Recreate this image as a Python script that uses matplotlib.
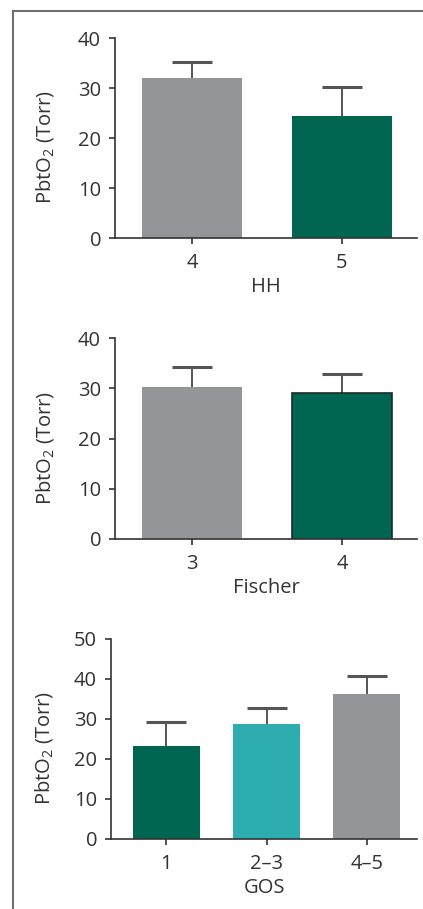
import numpy as np
import matplotlib
matplotlib.use('Agg')
import matplotlib.pyplot as plt
from matplotlib.lines import Line2D

plt.rcParams['font.family'] = ['Open Sans', 'DejaVu Sans']
plt.rcParams['mathtext.fontset'] = 'custom'
plt.rcParams['mathtext.rm'] = 'Open Sans'

GREY = '#939598'
GREEN = '#006651'
TEAL = '#2eadb0'
INK = '#333333'
FS = 14.5

# data (mean and upper SD)
hh_labels = ['4', '5']
hh_means = [32.0, 24.4]
hh_errs = [3.3, 5.8]
hh_colors = [GREY, GREEN]

fischer_labels = ['3', '4']
fischer_means = [30.2, 29.1]
fischer_errs = [4.1, 3.8]
fischer_colors = [GREY, GREEN]

gos_labels = ['1', '2\u20133', '4\u20135']
gos_means = [23.3, 28.8, 36.3]
gos_errs = [5.9, 3.9, 4.5]
gos_colors = [GREEN, TEAL, GREY]

W, H = 423, 909
fig = plt.figure(figsize=(W / 100, H / 100), dpi=100)

def px_axes(left, right, top, bottom):
    return fig.add_axes([left / W, 1 - bottom / H, (right - left) / W, (bottom - top) / H])

def panel(ax, labels, means, errs, colors, xlabel, ymax, ystep, xlim, ylab_x, edges=None):
    x = np.arange(len(labels))
    if edges is None:
        edges = ['none'] * len(labels)
    ax.bar(x, means, width=0.667, color=colors, edgecolor=edges, linewidth=1.2, zorder=2)
    eb = ax.errorbar(x, means, yerr=[np.zeros(len(errs)), errs], fmt='none',
                     ecolor='#555555', elinewidth=1.4, capsize=14.5, capthick=2.2, zorder=1)
    eb[1][0].set_visible(False)
    eb[1][1].set_color('#222222')
    ax.set_xlim(*xlim)
    ax.set_ylim(0, ymax)
    ax.set_yticks(np.arange(0, ymax + 1, ystep))
    ax.set_xticks(x)
    ax.set_xticklabels(labels)
    for s in ['top', 'right']:
        ax.spines[s].set_visible(False)
    for s in ['left', 'bottom']:
        ax.spines[s].set_color(INK)
        ax.spines[s].set_linewidth(1.2)
    ax.tick_params(direction='out', length=4.5, width=1.2, color=INK,
                   labelcolor=INK, labelsize=FS)
    ax.tick_params(axis='y', pad=5.5)
    ax.tick_params(axis='x', pad=6)
    ax.set_xlabel(xlabel, fontsize=FS, color=INK, labelpad=3)
    ax.set_ylabel(r'PbtO$_\mathregular{2}$ (Torr)', fontsize=FS, color=INK)
    ax.yaxis.set_label_coords(ylab_x, 0.455)

ax1 = px_axes(115, 417, 38, 238)
panel(ax1, hh_labels, hh_means, hh_errs, hh_colors, 'HH', 40, 10, (-0.513, 1.5), -0.195)

ax2 = px_axes(115, 417, 338, 539)
panel(ax2, fischer_labels, fischer_means, fischer_errs, fischer_colors, 'Fischer', 40, 10,
      (-0.513, 1.5), -0.195, edges=['none', '#1c2b27'])

ax3 = px_axes(111, 417, 639, 839)
panel(ax3, gos_labels, gos_means, gos_errs, gos_colors, 'GOS', 50, 10, (-0.55, 2.5), -0.183)

# frame lines around the figure
fig.add_artist(Line2D([13 / W, 1.0], [1 - 11 / H, 1 - 11 / H], transform=fig.transFigure,
                      color='#6d6e71', linewidth=1.5))
fig.add_artist(Line2D([13 / W, 13 / W], [1 - 11 / H, 0.0], transform=fig.transFigure,
                      color='#6d6e71', linewidth=1.5))

fig.savefig('out.png', dpi=100)
